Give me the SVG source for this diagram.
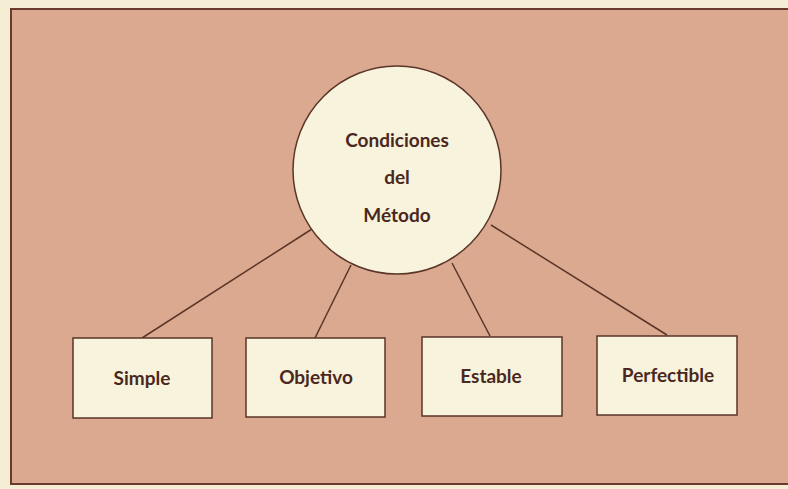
<svg xmlns="http://www.w3.org/2000/svg" width="788" height="489" viewBox="0 0 788 489">
<style>
.frame{fill:#dba98f;stroke:#6a3a2e;stroke-width:2}
.node{fill:#f8f3dc;stroke:#5a3528;stroke-width:1.5}
.conn{stroke:#5a3528;stroke-width:1.5;fill:none}
.lbl{font-family:Lato,"Open Sans","Liberation Sans",sans-serif;font-weight:bold;font-size:19px;fill:#4a2820;text-anchor:middle}
</style>
<rect x="0" y="0" width="788" height="489" fill="#f6eed4"/>
<rect class="frame" x="11" y="9" width="790" height="475"/>
<g id="connectors">
<line class="conn" x1="312" y1="229" x2="142" y2="338"/>
<line class="conn" x1="351" y1="265" x2="315" y2="338"/>
<line class="conn" x1="452" y1="263" x2="490" y2="336"/>
<line class="conn" x1="491" y1="225" x2="667" y2="335"/>
</g>
<g id="center">
<circle class="node" cx="397" cy="170" r="104"/>
<text class="lbl" x="397" y="147">Condiciones</text>
<text class="lbl" x="397" y="184">del</text>
<text class="lbl" x="397" y="222">Método</text>
</g>
<g id="simple">
<rect class="node" x="73" y="338" width="139" height="80"/>
<text class="lbl" x="142" y="385">Simple</text>
</g>
<g id="objetivo">
<rect class="node" x="246" y="338" width="139" height="79"/>
<text class="lbl" x="316" y="384">Objetivo</text>
</g>
<g id="estable">
<rect class="node" x="422" y="337" width="140" height="79"/>
<text class="lbl" x="491" y="383">Estable</text>
</g>
<g id="perfectible">
<rect class="node" x="597" y="336" width="140" height="79"/>
<text class="lbl" x="668" y="382">Perfectible</text>
</g>
</svg>
